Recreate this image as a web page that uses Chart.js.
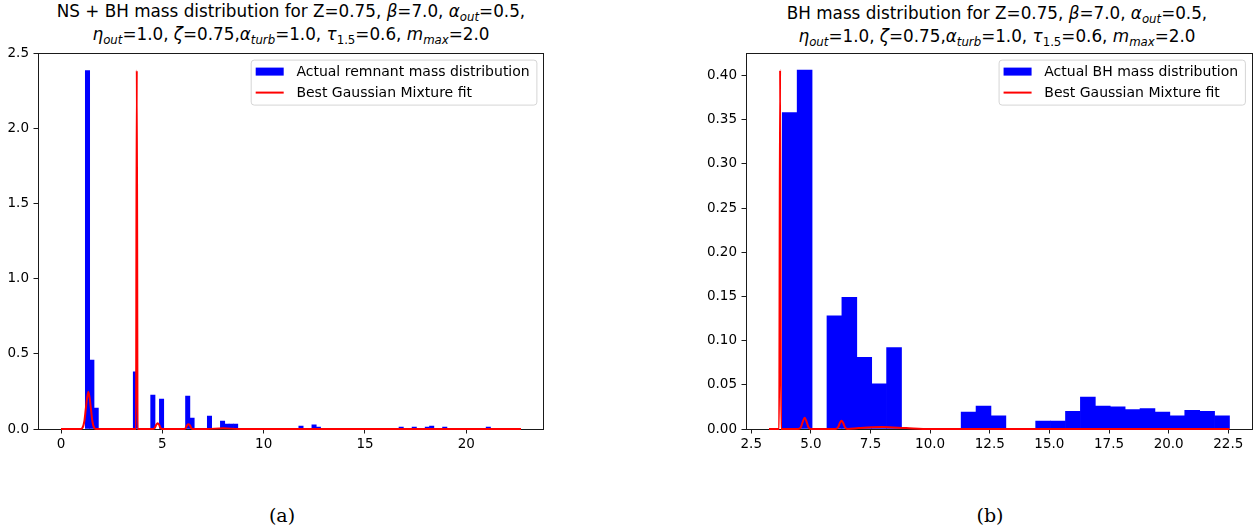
<!DOCTYPE html>
<html><head><meta charset="utf-8">
<script src="https://cdn.jsdelivr.net/npm/chart.js@4.4.1/dist/chart.umd.min.js"></script>
<style>
html,body{margin:0;padding:0;background:#fff;}
body{width:1259px;height:530px;overflow:hidden;position:relative;font-family:"DejaVu Sans";}
.title{position:absolute;text-align:center;font-size:16.8px;line-height:23px;white-space:nowrap;color:#000;}
.title i{font-style:oblique;}
.title sub{font-size:70%;vertical-align:baseline;position:relative;top:0.32em;line-height:0;}
.cap{position:absolute;font-family:"DejaVu Serif";font-size:19px;line-height:24px;color:#000;text-align:center;width:60px;}
.wrap{position:absolute;top:40px;height:420px;}
</style></head>
<body>
<div class="title" style="left:0;width:582px;top:0px;">NS + BH mass distribution for Z=0.75, <i>β</i>=7.0, <i>α<sub>out</sub></i>=0.5,<br><i>η<sub>out</sub></i>=1.0, <i>ζ</i>=0.75,<i>α<sub>turb</sub></i>=1.0, <i>τ</i><sub>1.5</sub>=0.6, <i>m<sub>max</sub></i>=2.0</div>
<div class="title" style="left:697px;width:600px;top:2px;">BH mass distribution for Z=0.75, <i>β</i>=7.0, <i>α<sub>out</sub></i>=0.5,<br><i>η<sub>out</sub></i>=1.0, <i>ζ</i>=0.75,<i>α<sub>turb</sub></i>=1.0, <i>τ</i><sub>1.5</sub>=0.6, <i>m<sub>max</sub></i>=2.0</div>
<div class="wrap" style="left:0;width:560px;"><canvas id="c1" width="560" height="420"></canvas></div>
<div class="wrap" style="left:700px;width:559px;"><canvas id="c2" width="559" height="420"></canvas></div>
<div class="cap" style="left:252px;top:503px;">(a)</div>
<div class="cap" style="left:960px;top:503px;">(b)</div>
<script>
// ---------- data: left panel (NS + BH) ----------
const leftBinWidth = 0.215;
const leftBinStarts = [1.200,1.415,1.630,3.565,4.425,4.855,6.145,6.360,7.220,7.865,8.080,8.295,8.510,11.735,12.380,12.595,16.680,17.325,17.970,18.185,18.830,20.980];
const leftHeights   = [2.384,0.458,0.139,0.380,0.226,0.199,0.219,0.073,0.086,0.053,0.033,0.033,0.033,0.020,0.027,0.013,0.013,0.013,0.013,0.020,0.013,0.013];
const leftFitX = [0,0.95,1.05,1.15,1.22,1.28,1.35,1.42,1.48,1.55,1.65,1.75,3.70,3.74,3.78,4.55,4.63,4.70,4.77,4.84,4.91,4.99,6.07,6.15,6.22,6.29,6.36,6.43,6.51,7.20,8.00,8.80,22.7];
const leftFitY = [0,0,0.006,0.05,0.13,0.2,0.248,0.2,0.13,0.05,0.006,0,0,2.384,0,0,0.008,0.028,0.038,0.028,0.008,0,0,0.006,0.024,0.031,0.024,0.006,0,0,0.005,0,0];
const leftXTicks = [0,5,10,15,20];
const leftXTickLabels = ['0','5','10','15','20'];
const leftYTicks = [0,0.5,1.0,1.5,2.0,2.5];
const leftYTickLabels = ['0.0','0.5','1.0','1.5','2.0','2.5'];
const leftLegendLabels = ['Actual remnant mass distribution','Best Gaussian Mixture fit'];

// ---------- data: right panel (BH only) ----------
const rightBinWidth = 0.625;
const rightBinStarts = [3.800,4.425,5.675,6.300,6.925,7.550,8.175,11.300,11.925,12.550,14.425,15.050,15.675,16.300,16.925,17.550,18.175,18.800,19.425,20.050,20.675,21.300,21.925];
const rightHeights   = [0.358,0.406,0.128,0.149,0.081,0.051,0.092,0.019,0.026,0.015,0.009,0.009,0.020,0.036,0.026,0.025,0.022,0.023,0.019,0.015,0.021,0.020,0.015];
const rightFitX = [3.245,3.67,3.71,3.75,4.46,4.58,4.67,4.74,4.81,4.90,5.02,6.02,6.14,6.22,6.28,6.35,6.43,6.55,7.00,8.00,9.00,10.00,22.55];
const rightFitY = [0,0,0.406,0,0,0.002,0.009,0.0128,0.009,0.002,0,0,0.002,0.007,0.0094,0.007,0.002,0,0.001,0.0022,0.001,0,0];
const rightXTicks = [2.5,5,7.5,10,12.5,15,17.5,20,22.5];
const rightXTickLabels = ['2.5','5.0','7.5','10.0','12.5','15.0','17.5','20.0','22.5'];
const rightYTicks = [0,0.05,0.10,0.15,0.20,0.25,0.30,0.35,0.40];
const rightYTickLabels = ['0.00','0.05','0.10','0.15','0.20','0.25','0.30','0.35','0.40'];
const rightLegendLabels = ['Actual BH mass distribution','Best Gaussian Mixture fit'];

const BLUE = '#0000ff', RED = '#ff0000';
const tickFont = {family:'DejaVu Sans', size:13.5};

const framePlugin = {
  id:'frame',
  beforeDatasetsDraw(chart){
    const a = chart.chartArea, ctx = chart.ctx;
    ctx.save();
    ctx.strokeStyle = '#1a1a1a'; ctx.lineWidth = 1;
    ctx.strokeRect(Math.round(a.left)+0.5, Math.round(a.top)+0.5, Math.round(a.right)-Math.round(a.left)-1, Math.round(a.bottom)-Math.round(a.top));
    ctx.restore();
  }
};
const legendPlugin = {
  id:'mplLegend',
  afterDatasetsDraw(chart, args, opts){
    const a = chart.chartArea, ctx = chart.ctx;
    ctx.save();
    ctx.font = '14px "DejaVu Sans"';
    const tw = Math.max(...opts.labels.map(l => ctx.measureText(l).width));
    const w = 5 + 28 + 12.7 + tw + 6.7, h = 45;
    const x = a.right - 7.6 - w, y = a.top + 7;
    ctx.beginPath();
    ctx.roundRect(x+0.5, y+0.5, w, h, 3);
    ctx.fillStyle = 'rgba(255,255,255,0.8)'; ctx.fill();
    ctx.strokeStyle = '#d5d5d5'; ctx.lineWidth = 1; ctx.stroke();
    const r1 = y + 12, r2 = y + 33;
    ctx.fillStyle = BLUE; ctx.fillRect(x+5, r1-4, 28, 8);
    ctx.strokeStyle = RED; ctx.lineWidth = 2;
    ctx.beginPath(); ctx.moveTo(x+5, r2); ctx.lineTo(x+33, r2); ctx.stroke();
    ctx.fillStyle = '#000'; ctx.textBaseline = 'middle'; ctx.textAlign = 'left';
    ctx.fillText(opts.labels[0], x+5+28+12.7, r1+0.5);
    ctx.fillText(opts.labels[1], x+5+28+12.7, r2+0.5);
    ctx.restore();
  }
};

function makeChart(id, cfg){
  const bars = cfg.starts.map((s,i) => ({x: s + cfg.width/2, y: cfg.heights[i]}));
  const fit = cfg.fitX.map((x,i) => ({x, y: cfg.fitY[i]}));
  return new Chart(document.getElementById(id), {
    type:'bar',
    data:{datasets:[
      {type:'line', label:cfg.legend[1], data:fit, borderColor:RED, borderWidth:2, pointRadius:0, cubicInterpolationMode:'monotone', fill:false, order:0, clip:3},
      {type:'bar', label:cfg.legend[0], data:bars, backgroundColor:BLUE, borderWidth:0, barPercentage:1.0, categoryPercentage:1.0, order:1}
    ]},
    options:{
      responsive:false, animation:false, events:[],
      layout:{padding:{top:12, right:cfg.padRight, left:0, bottom:0}},
      plugins:{legend:{display:false}, tooltip:{enabled:false}, title:{display:false}, mplLegend:{labels:cfg.legend}},
      scales:{
        x:{type:'linear', min:cfg.xmin, max:cfg.xmax, offset:false,
           afterFit(s){ s.height = 31; },
           afterBuildTicks(s){ s.ticks = cfg.xTicks.map(v => ({value:v})); },
           ticks:{font:tickFont, color:'#000', padding:3, maxRotation:0, autoSkip:false, callback:(v,i) => cfg.xLabels[i]},
           grid:{drawOnChartArea:false, drawTicks:true, tickLength:4.5, tickColor:'#1a1a1a', lineWidth:1, offset:false},
           border:{display:false}},
        y:{type:'linear', min:0, max:cfg.ymax,
           afterFit(s){ s.width = cfg.yWidth; },
           afterBuildTicks(s){ s.ticks = cfg.yTicks.map(v => ({value:v})); },
           ticks:{font:tickFont, color:'#000', padding:4.5, autoSkip:false, callback:(v,i) => cfg.yLabels[i]},
           grid:{drawOnChartArea:false, drawTicks:true, tickLength:4.5, tickColor:'#1a1a1a', lineWidth:1},
           border:{display:false}}
      }
    },
    plugins:[framePlugin, legendPlugin]
  });
}

makeChart('c1', {starts:leftBinStarts, heights:leftHeights, width:leftBinWidth, fitX:leftFitX, fitY:leftFitY,
  xmin:-1.135, xmax:23.835, ymax:2.503, xTicks:leftXTicks, xLabels:leftXTickLabels, yTicks:leftYTicks, yLabels:leftYTickLabels,
  legend:leftLegendLabels, yWidth:38, padRight:16});
makeChart('c2', {starts:rightBinStarts, heights:rightHeights, width:rightBinWidth, fitX:rightFitX, fitY:rightFitY,
  xmin:2.28, xmax:23.515, ymax:0.4258, xTicks:rightXTicks, xLabels:rightXTickLabels, yTicks:rightYTicks, yLabels:rightYTickLabels,
  legend:rightLegendLabels, yWidth:46, padRight:6.5});
</script>
</body></html>
